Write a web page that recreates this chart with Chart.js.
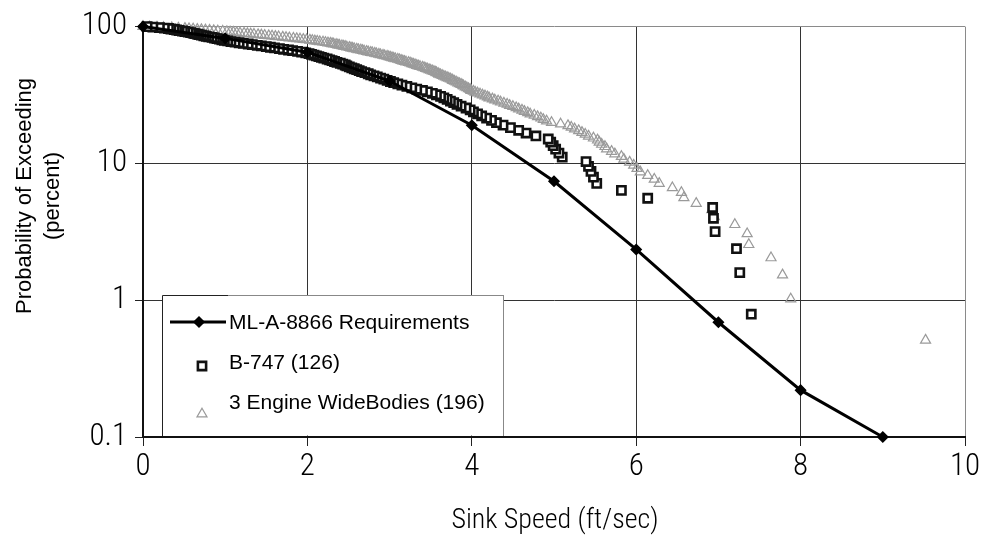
<!DOCTYPE html>
<html><head><meta charset="utf-8">
<script src="https://cdn.jsdelivr.net/npm/chart.js@4/dist/chart.umd.min.js"></script>
<style>html,body{margin:0;padding:0;background:#fff;}#wrap{width:984px;height:548px;}</style>
</head><body><div id="wrap"><canvas id="c" width="984" height="548"></canvas></div>
<script>
const xTicks = [0, 2, 4, 6, 8, 10];
const xTickLabels = ['0', '2', '4', '6', '8', '10'];
const yTicks = [0.1, 1, 10, 100];
const yTickLabels = ['0.1', '1', '10', '100'];
const seriesNames = ['ML-A-8866 Requirements', 'B-747 (126)', '3 Engine WideBodies (196)'];
const xTitle = 'Sink Speed (ft/sec)';
const yTitle = ['Probability of Exceeding', '(percent)'];

const milX = [0, 1, 2, 3, 4, 5, 6, 7, 8, 9];
const milY = [100, 82, 65, 40, 19, 7.4, 2.35, 0.69, 0.22, 0.1];

const b747X = [7.40,7.26,7.22,6.96,6.94,6.93,6.14,5.82,5.52,5.48,
  5.45,5.42,5.39,5.10,5.06,5.02,4.99,4.96,4.93,4.78,
  4.66,4.57,4.47,4.38,4.30,4.24,4.18,4.12,4.07,4.02,
  3.98,3.93,3.87,3.82,3.78,3.74,3.70,3.66,3.62,3.57,
  3.52,3.46,3.40,3.33,3.27,3.21,3.15,3.10,3.05,3.01,
  2.97,2.93,2.89,2.85,2.81,2.77,2.74,2.70,2.66,2.63,
  2.60,2.57,2.54,2.51,2.48,2.46,2.43,2.40,2.36,2.33,
  2.30,2.27,2.24,2.20,2.17,2.14,2.11,2.08,2.05,2.02,
  1.98,1.93,1.88,1.82,1.77,1.71,1.66,1.60,1.55,1.50,
  1.44,1.39,1.33,1.28,1.22,1.17,1.12,1.07,1.03,0.99,
  0.96,0.93,0.90,0.87,0.84,0.80,0.77,0.74,0.71,0.68,
  0.66,0.63,0.61,0.58,0.55,0.51,0.48,0.44,0.41,0.38,
  0.34,0.31,0.26,0.20,0.12,0.05];
const b747Y = [0.79,1.59,2.38,3.17,3.97,4.76,5.56,6.35,7.14,7.94,
  8.73,9.52,10.32,11.11,11.90,12.70,13.49,14.29,15.08,15.87,
  16.67,17.46,18.25,19.05,19.84,20.63,21.43,22.22,23.02,23.81,
  24.60,25.40,26.19,26.98,27.78,28.57,29.37,30.16,30.95,31.75,
  32.54,33.33,34.13,34.92,35.71,36.51,37.30,38.10,38.89,39.68,
  40.48,41.27,42.06,42.86,43.65,44.44,45.24,46.03,46.83,47.62,
  48.41,49.21,50.00,50.79,51.59,52.38,53.17,53.97,54.76,55.56,
  56.35,57.14,57.94,58.73,59.52,60.32,61.11,61.90,62.70,63.49,
  64.29,65.08,65.87,66.67,67.46,68.25,69.05,69.84,70.63,71.43,
  72.22,73.02,73.81,74.60,75.40,76.19,76.98,77.78,78.57,79.37,
  80.16,80.95,81.75,82.54,83.33,84.13,84.92,85.71,86.51,87.30,
  88.10,88.89,89.68,90.48,91.27,92.06,92.86,93.65,94.44,95.24,
  96.03,96.83,97.62,98.41,99.21,100];

const wideX = [9.52,7.88,7.78,7.64,7.37,7.35,7.20,6.95,6.92,6.73,
  6.58,6.55,6.44,6.28,6.22,6.14,6.05,6.01,5.97,5.92,
  5.85,5.82,5.74,5.70,5.64,5.62,5.58,5.55,5.53,5.48,
  5.42,5.38,5.34,5.30,5.25,5.21,5.17,5.08,4.97,4.91,
  4.87,4.84,4.80,4.76,4.71,4.68,4.64,4.61,4.57,4.54,
  4.50,4.46,4.43,4.39,4.35,4.32,4.28,4.25,4.21,4.19,
  4.16,4.13,4.10,4.07,4.04,4.02,3.99,3.98,3.96,3.94,
  3.92,3.90,3.89,3.87,3.85,3.83,3.81,3.79,3.77,3.76,
  3.74,3.72,3.70,3.68,3.66,3.64,3.62,3.60,3.59,3.57,
  3.56,3.54,3.52,3.50,3.48,3.46,3.44,3.42,3.40,3.37,
  3.35,3.33,3.31,3.29,3.27,3.25,3.23,3.20,3.18,3.16,
  3.14,3.12,3.10,3.07,3.05,3.03,3.01,2.99,2.97,2.94,
  2.92,2.89,2.87,2.84,2.82,2.79,2.77,2.74,2.72,2.69,
  2.67,2.65,2.62,2.60,2.57,2.55,2.53,2.51,2.48,2.46,
  2.44,2.42,2.39,2.37,2.35,2.32,2.30,2.28,2.25,2.22,
  2.19,2.15,2.12,2.09,2.06,2.03,1.99,1.95,1.91,1.87,
  1.83,1.78,1.74,1.70,1.65,1.61,1.57,1.53,1.48,1.44,
  1.40,1.35,1.31,1.27,1.23,1.18,1.14,1.10,1.06,1.02,
  0.97,0.91,0.86,0.81,0.76,0.71,0.66,0.61,0.56,0.51,
  0.43,0.35,0.25,0.17,0.08,0.00];
const wideY = [0.51,1.02,1.53,2.04,2.55,3.06,3.57,4.08,4.59,5.10,
  5.61,6.12,6.63,7.14,7.65,8.16,8.67,9.18,9.69,10.20,
  10.71,11.22,11.73,12.24,12.76,13.27,13.78,14.29,14.80,15.31,
  15.82,16.33,16.84,17.35,17.86,18.37,18.88,19.39,19.90,20.41,
  20.92,21.43,21.94,22.45,22.96,23.47,23.98,24.49,25.00,25.51,
  26.02,26.53,27.04,27.55,28.06,28.57,29.08,29.59,30.10,30.61,
  31.12,31.63,32.14,32.65,33.16,33.67,34.18,34.69,35.20,35.71,
  36.22,36.73,37.24,37.76,38.27,38.78,39.29,39.80,40.31,40.82,
  41.33,41.84,42.35,42.86,43.37,43.88,44.39,44.90,45.41,45.92,
  46.43,46.94,47.45,47.96,48.47,48.98,49.49,50.00,50.51,51.02,
  51.53,52.04,52.55,53.06,53.57,54.08,54.59,55.10,55.61,56.12,
  56.63,57.14,57.65,58.16,58.67,59.18,59.69,60.20,60.71,61.22,
  61.73,62.24,62.76,63.27,63.78,64.29,64.80,65.31,65.82,66.33,
  66.84,67.35,67.86,68.37,68.88,69.39,69.90,70.41,70.92,71.43,
  71.94,72.45,72.96,73.47,73.98,74.49,75.00,75.51,76.02,76.53,
  77.04,77.55,78.06,78.57,79.08,79.59,80.10,80.61,81.12,81.63,
  82.14,82.65,83.16,83.67,84.18,84.69,85.20,85.71,86.22,86.73,
  87.24,87.76,88.27,88.78,89.29,89.80,90.31,90.82,91.33,91.84,
  92.35,92.86,93.37,93.88,94.39,94.90,95.41,95.92,96.43,96.94,
  97.45,97.96,98.47,98.98,99.49,100];

const pts = (xs, ys) => xs.map((x, i) => ({x: x, y: ys[i]}));
const NARROW = "'Roboto Condensed', 'Noto Sans ExtraCondensed', 'Noto Sans Condensed', 'Liberation Sans Narrow', 'DejaVu Sans', sans-serif";
const NARROW_W = '300 condensed';
const SANS = "'Liberation Sans', Arial, sans-serif";

const styles = [
  {pointStyle: 'rectRot', radius: 5, borderWidth: 1.5, borderColor: '#000', backgroundColor: '#000'},
  {pointStyle: 'rect', radius: 5.8, borderWidth: 2.6, borderColor: '#111', backgroundColor: '#fff'},
  {pointStyle: 'triangle', radius: 5.8, borderWidth: 1.2, borderColor: '#9a9a9a', backgroundColor: 'rgba(255,255,255,0)'}
];

const legendPlugin = {
  id: 'boxLegend',
  afterDatasetsDraw(chart) {
    const ctx = chart.ctx;
    ctx.save();
    ctx.fillStyle = '#fff';
    ctx.fillRect(162, 295, 342, 140.5);
    ctx.strokeStyle = '#222';
    ctx.lineWidth = 1;
    ctx.beginPath();
    ctx.moveTo(162.5, 436); ctx.lineTo(162.5, 295.5); ctx.lineTo(228, 295.5);
    ctx.stroke();
    ctx.strokeStyle = '#888';
    ctx.beginPath();
    ctx.moveTo(228, 295.5); ctx.lineTo(504, 295.5);
    ctx.moveTo(503.5, 296); ctx.lineTo(503.5, 436);
    ctx.stroke();
    ctx.strokeStyle = '#000';
    ctx.lineWidth = 3;
    ctx.beginPath(); ctx.moveTo(170, 322); ctx.lineTo(226, 322); ctx.stroke();
    ctx.fillStyle = '#000'; ctx.lineWidth = 1.5;
    Chart.helpers.drawPoint(ctx, styles[0], 199, 322);
    ctx.lineWidth = styles[1].borderWidth;
    ctx.strokeStyle = styles[1].borderColor; ctx.fillStyle = styles[1].backgroundColor;
    Chart.helpers.drawPoint(ctx, styles[1], 202, 366);
    ctx.lineWidth = styles[2].borderWidth;
    ctx.strokeStyle = styles[2].borderColor; ctx.fillStyle = styles[2].backgroundColor;
    Chart.helpers.drawPoint(ctx, styles[2], 202, 414);
    ctx.fillStyle = '#000';
    ctx.font = '21px ' + SANS;
    ctx.textBaseline = 'middle';
    ctx.textAlign = 'left';
    ctx.fillText(seriesNames[0], 229, 323);
    ctx.fillText(seriesNames[1], 229, 363);
    ctx.fillText(seriesNames[2], 229, 403);
    ctx.restore();
  },
  afterDraw(chart) {
    const ctx = chart.ctx;
    ctx.save();
    ctx.fillStyle = '#000';
    ctx.textAlign = 'center';
    ctx.textBaseline = 'middle';
    ctx.font = '22px ' + SANS;
    ctx.translate(0, 196);
    ctx.rotate(-Math.PI / 2);
    ctx.fillText(yTitle[0], 0, 25);
    ctx.fillText(yTitle[1], 0, 53);
    ctx.restore();
    ctx.save();
    ctx.fillStyle = '#000';
    ctx.textAlign = 'center';
    ctx.textBaseline = 'middle';
    ctx.font = NARROW_W + ' 28px ' + NARROW;
    ctx.fillText(xTitle, 555, 521);
    ctx.restore();
  }
};

const gridCol = (edgeVal) => (c) => (c.tick && c.tick.value === edgeVal) ? '#8a8a8a' : '#333';

new Chart(document.getElementById('c'), {
  type: 'scatter',
  data: {
    datasets: [
      {label: seriesNames[0], data: pts(milX, milY), showLine: true, borderWidth: 3,
        borderColor: '#000', backgroundColor: '#000', pointStyle: 'rectRot', pointRadius: styles[0].radius,
        pointBorderWidth: styles[0].borderWidth, pointBackgroundColor: '#000', pointBorderColor: '#000', order: 0, clip: false},
      {label: seriesNames[1], data: pts(b747X, b747Y), pointStyle: 'rect', pointRadius: styles[1].radius,
        pointBorderWidth: styles[1].borderWidth, pointBorderColor: styles[1].borderColor,
        pointBackgroundColor: styles[1].backgroundColor, order: 1, clip: false},
      {label: seriesNames[2], data: pts(wideX, wideY), pointStyle: 'triangle', pointRadius: styles[2].radius,
        pointBorderWidth: styles[2].borderWidth, pointBorderColor: styles[2].borderColor,
        pointBackgroundColor: styles[2].backgroundColor, order: 2, clip: false}
    ]
  },
  options: {
    responsive: false,
    animation: false,
    devicePixelRatio: 1,
    layout: {padding: {left: 0, top: 23, right: 19, bottom: 0}},
    plugins: {legend: {display: false}, tooltip: {enabled: false}},
    scales: {
      x: {
        type: 'linear', min: 0, max: 10,
        afterFit(s) { s.height = 111; },
        afterBuildTicks(s) { s.ticks = xTicks.map(v => ({value: v})); },
        ticks: {
          callback: (v) => xTickLabels[xTicks.indexOf(v)],
          color: '#000', padding: 3, maxRotation: 0,
          font: {family: NARROW, size: 31, weight: NARROW_W}
        },
        grid: {color: gridCol(10), lineWidth: 1, tickLength: 9, tickColor: '#222', drawTicks: true},
        border: {color: '#111', width: 2}
      },
      y: {
        type: 'logarithmic', min: 0.1, max: 100,
        afterFit(s) { s.width = 143; },
        afterBuildTicks(s) { s.ticks = yTicks.map(v => ({value: v})); },
        ticks: {
          callback: (v) => yTickLabels[yTicks.indexOf(v)],
          color: '#000', padding: 8,
          font: {family: NARROW, size: 31, weight: NARROW_W}
        },
        grid: {color: gridCol(100), lineWidth: 1, tickLength: 8, tickColor: '#222', drawTicks: true},
        border: {color: '#111', width: 2}
      }
    }
  },
  plugins: [legendPlugin]
});
</script></body></html>
